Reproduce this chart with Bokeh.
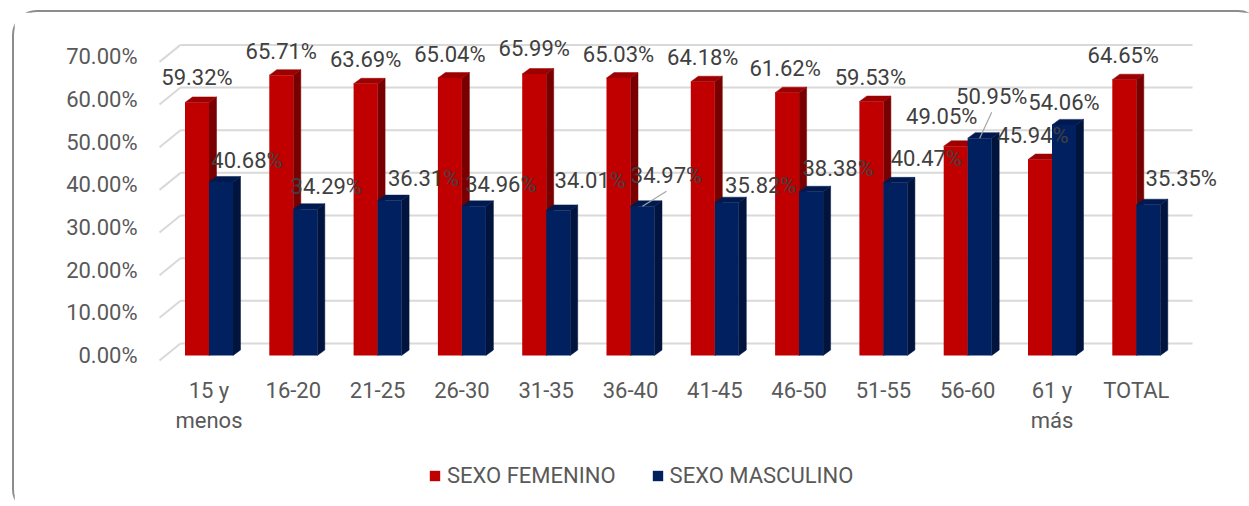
from bokeh.plotting import figure
from bokeh.models import (FixedTicker, PrintfTickFormatter, Range1d, Legend,
                          LegendItem, GlobalInlineStyleSheet)
from bokeh.embed import file_html
from bokeh.resources import INLINE
from bokeh.core.properties import value

# ---------------- data ----------------
categories = ["15 y\nmenos", "16-20", "21-25", "26-30", "31-35", "36-40",
              "41-45", "46-50", "51-55", "56-60", "61 y\nmás", "TOTAL"]
femenino = [59.32, 65.71, 63.69, 65.04, 65.99, 65.03, 64.18, 61.62, 59.53, 49.05, 45.94, 64.65]
masculino = [40.68, 34.29, 36.31, 34.96, 34.01, 34.97, 35.82, 38.38, 40.47, 50.95, 54.06, 35.35]
y_ticks = [0, 10, 20, 30, 40, 50, 60, 70]
series_names = ["SEXO FEMENINO", "SEXO MASCULINO"]

# ---------------- layout / style ----------------
FONT = "Roboto"
XPU = 84.3      # px per category
YPU = 4.266     # px per percent
ORIGIN_X, ORIGIN_Y = 14, 12          # page position of figure content
W, H = 1251, 504
FRAME_L, FRAME_R, FRAME_T, FRAME_B = 55, 1225, 14, 506
YLAB_RIGHT = 137                     # right edge of y tick labels
XLAB_TOP = 377                       # top of category labels
LEG_X, LEG_BOTTOM = 428, 488         # legend box (page px)
CAT0_X = 208.5   # page x of first category centre
ZERO_Y = 355     # page y of 0 %
BAR_W = 24 / XPU
DX, DY = 7.5 / XPU, 5.5 / YPU               # bar depth
WALL_DX, WALL_DY = 21 / XPU, 17 / YPU        # floor / wall depth
FLOOR_FRONT = 5 / YPU                        # floor front edge below bar base
GRID_RIGHT = (1192 - CAT0_X) / XPU

RED, RED_TOP, RED_SIDE = "#C00000", "#9C0000", "#780000"
BLUE, BLUE_TOP, BLUE_SIDE = "#002060", "#001A50", "#00143E"
GRID = "#D9D9D9"
TICK_TXT = "#595959"
LABEL_TXT = "#404040"

RED_NUDGE = [(0, -25), (0, -24), (0, -24), (0, -24), (0, -25), (0, -24),
             (0, -24), (-2, -24), (-1, -24), (-14, -30), (-7, -24), (-1, -24)]
BLUE_NUDGE = [(26, -21), (21, -23), (34, -22), (27, -22), (32, -30), (24, -31),
              (34, -17), (27, -23), (31, -24), (12, -42), (0, -22), (33, -26)]
BLUE_LEADER = [5, 9]

x_start = (FRAME_L - CAT0_X) / XPU
x_end = (FRAME_R - CAT0_X) / XPU
y_start = (ZERO_Y - FRAME_B) / YPU
y_end = (ZERO_Y - FRAME_T) / YPU

p = figure(width=W, height=H, output_backend="svg", toolbar_location=None,
           title=None, x_range=Range1d(x_start, x_end), y_range=Range1d(y_start, y_end),
           min_border_left=FRAME_L - ORIGIN_X, min_border_right=ORIGIN_X + W - FRAME_R,
           min_border_top=FRAME_T - ORIGIN_Y, min_border_bottom=ORIGIN_Y + H - FRAME_B)
p.styles = {"margin-left": "12px", "margin-top": "10px",
            "border": "2px solid #8C8C8C", "border-radius": "25px"}
p.stylesheets = [GlobalInlineStyleSheet(css="html, body { overflow: hidden !important; }")]
p.outline_line_color = None
p.background_fill_color = "white"
p.border_fill_color = "white"
p.xgrid.visible = False
p.ygrid.visible = False

# ---------------- 3D gridlines (wall + floor diagonals) ----------------
x_front = (159 - CAT0_X) / XPU
x_back = x_front + WALL_DX
for t in y_ticks:
    yb = t - FLOOR_FRONT + WALL_DY
    p.segment(x0=[x_front, x_back], y0=[t - FLOOR_FRONT, yb],
              x1=[x_back, GRID_RIGHT], y1=[yb, yb],
              line_color=GRID, line_width=2)

# ---------------- bars ----------------
n = len(categories)
idx = list(range(n))


def draw_series(vals, left_of, front, top_c, side_c):
    xl = [left_of(i) for i in idx]
    xr = [x + BAR_W for x in xl]
    side_xs = [[r, r + DX, r + DX, r] for r in xr]
    side_ys = [[0, DY, v + DY, v] for v in vals]
    p.patches(side_xs, side_ys, fill_color=side_c, line_color=side_c, line_width=0.5)
    top_xs = [[l, r, r + DX, l + DX] for l, r in zip(xl, xr)]
    top_ys = [[v, v, v + DY, v + DY] for v in vals]
    p.patches(top_xs, top_ys, fill_color=top_c, line_color=top_c, line_width=0.5)
    return p.vbar(x=[(l + r) / 2 for l, r in zip(xl, xr)], width=BAR_W, top=vals,
                  bottom=0, fill_color=front, line_color=None)


r_fem = draw_series(femenino, lambda i: i - BAR_W, RED, RED_TOP, RED_SIDE)
r_mas = draw_series(masculino, lambda i: i, BLUE, BLUE_TOP, BLUE_SIDE)

# ---------------- data labels ----------------
def label_pos(vals, centre_shift, nudges):
    lx = [i + centre_shift + dx / XPU for i, (dx, dy) in zip(idx, nudges)]
    ly = [v - dy / YPU for v, (dx, dy) in zip(vals, nudges)]
    return lx, ly


fx, fy = label_pos(femenino, -BAR_W / 2, RED_NUDGE)
mx, my = label_pos(masculino, BAR_W / 2, BLUE_NUDGE)

for k in BLUE_LEADER:
    p.segment(x0=[k + BAR_W / 2], y0=[masculino[k]], x1=[mx[k]], y1=[my[k] - 16 / YPU],
              line_color="#A6A6A6", line_width=1.2)

txt = dict(text_font=value(FONT), text_font_size="22px", text_color=LABEL_TXT,
           text_align="center", text_baseline="middle")
p.text(x=fx, y=fy, text=[f"{v:.2f}%" for v in femenino], **txt)
p.text(x=mx, y=my, text=[f"{v:.2f}%" for v in masculino], **txt)

# ---------------- axes ----------------
p.yaxis.ticker = FixedTicker(ticks=y_ticks)
p.yaxis.formatter = PrintfTickFormatter(format="%.2f%%")
p.xaxis.ticker = FixedTicker(ticks=idx)
p.xaxis.major_label_overrides = {i: c for i, c in zip(idx, categories)}
for ax in (p.xaxis[0], p.yaxis[0]):
    ax.axis_line_color = None
    ax.major_tick_line_color = None
    ax.minor_tick_line_color = None
    ax.major_tick_out = 0
    ax.major_tick_in = 0
    ax.major_label_text_font = FONT
    ax.major_label_text_font_size = "22px"
    ax.major_label_text_color = TICK_TXT
p.xaxis.major_label_standoff = XLAB_TOP - FRAME_B
p.yaxis.major_label_standoff = FRAME_L - YLAB_RIGHT

# ---------------- legend ----------------
legend = Legend(items=[LegendItem(label=series_names[0], renderers=[r_fem]),
                       LegendItem(label=series_names[1], renderers=[r_mas])],
                location=(LEG_X - FRAME_L, FRAME_B - LEG_BOTTOM), orientation="horizontal",
                glyph_width=13, glyph_height=13, label_standoff=6, spacing=35,
                padding=0, margin=0, border_line_color=None, background_fill_alpha=0,
                label_text_font=FONT, label_text_font_size="22px",
                label_text_color=TICK_TXT)
p.add_layout(legend)

open("out.html", "w").write(file_html(p, INLINE))
